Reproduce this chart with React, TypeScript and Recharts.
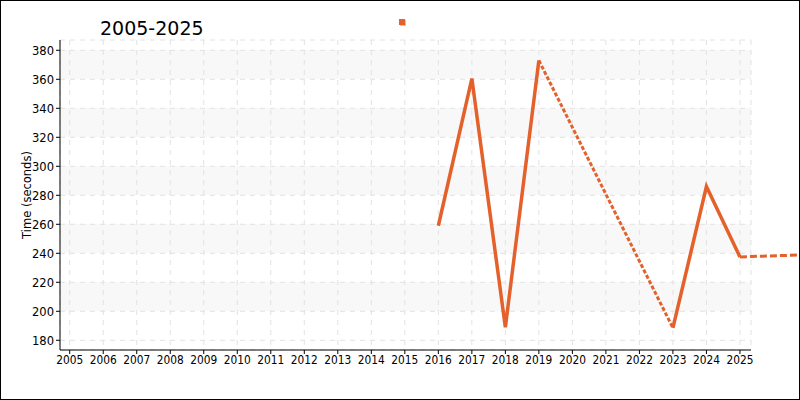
import React from "react";
import {
  LineChart,
  Line,
  XAxis,
  YAxis,
  CartesianGrid,
  ReferenceLine,
  Legend,
} from "recharts";

// values
const years = [2016, 2017, 2018, 2019, 2020, 2021, 2022, 2023, 2024, 2025];
const measured = [259, 360.5, 189, 373, null, null, null, 188.5, 286, 237.5];
// missing years are bridged with a dashed line
const bridged = [null, null, null, 373, null, null, null, 188.5, null, null];
const projection = [
  { x: 2025, y: 237.5 },
  { x: 2027, y: 239 },
];

const xTicks = [
  2005, 2006, 2007, 2008, 2009, 2010, 2011, 2012, 2013, 2014, 2015, 2016, 2017,
  2018, 2019, 2020, 2021, 2022, 2023, 2024, 2025,
];
const yTicks = [180, 200, 220, 240, 260, 280, 300, 320, 340, 360, 380];

const rows = years.map((year, i) => ({ year, time: measured[i], gap: bridged[i] }));

const ORANGE = "#e4612c";
const axisFont = "'DejaVu Sans', sans-serif";
const axisText = { fontFamily: axisFont, fontSize: 12.5 };

// stripes between gridlines: shade every other band, leave top/bottom edges blank
const stripes = [
  "none", "#f8f8f8", "none", "#f8f8f8", "none", "#f8f8f8",
  "none", "#f8f8f8", "none", "#f8f8f8", "none", "none",
];

// the reference squeezes its tick labels a little
function XTick(props: any) {
  const { x, y, payload } = props;
  return (
    <text
      x={x}
      y={y}
      dy={10}
      textAnchor="middle"
      fill="#000"
      textLength={27}
      lengthAdjust="spacingAndGlyphs"
      style={axisText}
    >
      {payload.value}
    </text>
  );
}

function YTick(props: any) {
  const { x, y, payload } = props;
  return (
    <text
      x={x}
      y={y}
      dy={4.5}
      textAnchor="end"
      fill="#000"
      textLength={22}
      lengthAdjust="spacingAndGlyphs"
      style={axisText}
    >
      {payload.value}
    </text>
  );
}

function LegendMarker() {
  return (
    <svg width={10} height={10} style={{ display: "block" }}>
      <rect x={1} y={1} width={6} height={6} fill="#c8c8c8" />
      <rect x={0} y={0} width={6} height={6} fill={ORANGE} />
    </svg>
  );
}

export default function App() {
  return (
    <div
      style={{
        position: "fixed",
        left: 0,
        top: 0,
        width: 800,
        height: 400,
        boxSizing: "border-box",
        border: "1px solid #000",
        background: "#fff",
      }}
    >
      <div
        style={{
          position: "absolute",
          left: 99,
          top: 18,
          fontFamily: "'DejaVu Sans', sans-serif",
          fontSize: 19,
          lineHeight: "19px",
          color: "#000",
          whiteSpace: "nowrap",
        }}
      >
        2005-2025
      </div>
      <LineChart
        width={798}
        height={398}
        data={rows}
        margin={{ top: 39, right: 48, left: 0, bottom: 0 }}
      >
        <CartesianGrid
          stroke="#e2e2e2"
          strokeDasharray="5 5"
          horizontalFill={stripes}
        />
        <XAxis
          type="number"
          dataKey="year"
          domain={[2004.71, 2025.33]}
          ticks={xTicks}
          interval={0}
          height={49}
          tick={<XTick />}
          tickSize={4}
          tickMargin={0}
          stroke="#000"
          tickLine={{ stroke: "#000" }}
          axisLine={{ stroke: "#000" }}
        />
        <YAxis
          type="number"
          domain={[173.3, 387.1]}
          ticks={yTicks}
          interval={0}
          width={59}
          tick={<YTick />}
          tickSize={4}
          tickMargin={2}
          stroke="#000"
          tickLine={{ stroke: "#000" }}
          axisLine={{ stroke: "#000" }}
          label={{
            value: "Time (seconds)",
            angle: -90,
            position: "center",
            dx: -4,
            style: { fontFamily: axisFont, fontSize: 11.5, fill: "#000" },
          }}
        />
        <Legend
          layout="horizontal"
          verticalAlign="middle"
          align="center"
          wrapperStyle={{ top: 18, left: 398, width: 10, height: 10, lineHeight: 0 }}
          content={() => <LegendMarker />}
        />
        <Line
          type="linear"
          dataKey="gap"
          stroke={ORANGE}
          strokeWidth={3}
          strokeDasharray="4 2"
          connectNulls
          dot={false}
          activeDot={false}
          isAnimationActive={false}
        />
        <Line
          type="linear"
          dataKey="time"
          stroke={ORANGE}
          strokeWidth={3.5}
          dot={false}
          activeDot={false}
          isAnimationActive={false}
        />
        <ReferenceLine
          segment={projection}
          ifOverflow="visible"
          stroke={ORANGE}
          strokeWidth={3}
          strokeDasharray="7 3"
        />
      </LineChart>
    </div>
  );
}
